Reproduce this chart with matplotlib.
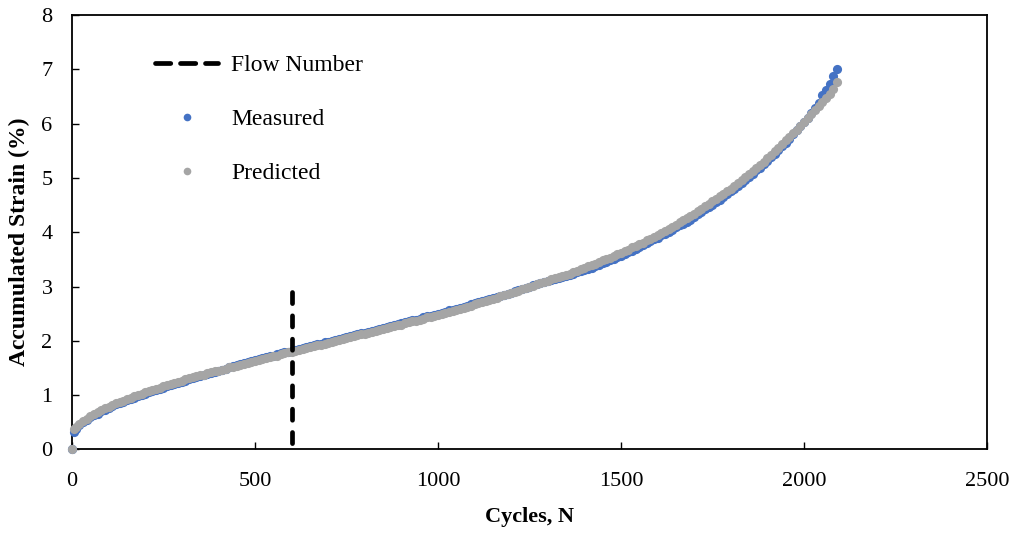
import matplotlib
matplotlib.use("Agg")
import matplotlib.pyplot as plt
from matplotlib.lines import Line2D

# cycles at which strain was recorded
cycles = [0, 5,
          10, 20, 30, 40, 50, 60, 70, 80, 90, 100,
          110, 120, 130, 140, 150, 160, 170, 180, 190, 200,
          210, 220, 230, 240, 250, 260, 270, 280, 290, 300,
          310, 320, 330, 340, 350, 360, 370, 380, 390, 400,
          410, 420, 430, 440, 450, 460, 470, 480, 490, 500,
          510, 520, 530, 540, 550, 560, 570, 580, 590, 600,
          610, 620, 630, 640, 650, 660, 670, 680, 690, 700,
          710, 720, 730, 740, 750, 760, 770, 780, 790, 800,
          810, 820, 830, 840, 850, 860, 870, 880, 890, 900,
          910, 920, 930, 940, 950, 960, 970, 980, 990, 1000,
          1010, 1020, 1030, 1040, 1050, 1060, 1070, 1080, 1090, 1100,
          1110, 1120, 1130, 1140, 1150, 1160, 1170, 1180, 1190, 1200,
          1210, 1220, 1230, 1240, 1250, 1260, 1270, 1280, 1290, 1300,
          1310, 1320, 1330, 1340, 1350, 1360, 1370, 1380, 1390, 1400,
          1410, 1420, 1430, 1440, 1450, 1460, 1470, 1480, 1490, 1500,
          1510, 1520, 1530, 1540, 1550, 1560, 1570, 1580, 1590, 1600,
          1610, 1620, 1630, 1640, 1650, 1660, 1670, 1680, 1690, 1700,
          1710, 1720, 1730, 1740, 1750, 1760, 1770, 1780, 1790, 1800,
          1810, 1820, 1830, 1840, 1850, 1860, 1870, 1880, 1890, 1900,
          1910, 1920, 1930, 1940, 1950, 1960, 1970, 1980, 1990, 2000,
          2010, 2020, 2030, 2040, 2050, 2060, 2070, 2080, 2090]

measured_strain = [0.00, 0.33,
                   0.38, 0.45, 0.50, 0.55, 0.59, 0.63, 0.66, 0.70, 0.73, 0.77,
                   0.80, 0.83, 0.85, 0.88, 0.91, 0.93, 0.95, 0.98, 1.00, 1.02,
                   1.05, 1.07, 1.10, 1.12, 1.14, 1.16, 1.18, 1.20, 1.23, 1.25,
                   1.27, 1.29, 1.31, 1.33, 1.35, 1.37, 1.39, 1.41, 1.43, 1.45,
                   1.47, 1.49, 1.51, 1.53, 1.55, 1.57, 1.59, 1.61, 1.62, 1.64,
                   1.66, 1.68, 1.70, 1.72, 1.73, 1.75, 1.77, 1.79, 1.80, 1.82,
                   1.83, 1.85, 1.87, 1.89, 1.90, 1.92, 1.94, 1.95, 1.97, 1.98,
                   2.00, 2.02, 2.04, 2.05, 2.07, 2.09, 2.11, 2.12, 2.14, 2.15,
                   2.17, 2.18, 2.20, 2.22, 2.24, 2.25, 2.27, 2.29, 2.31, 2.32,
                   2.34, 2.36, 2.38, 2.39, 2.41, 2.43, 2.45, 2.46, 2.48, 2.50,
                   2.52, 2.54, 2.56, 2.57, 2.59, 2.61, 2.63, 2.65, 2.67, 2.69,
                   2.71, 2.73, 2.75, 2.77, 2.79, 2.81, 2.83, 2.85, 2.87, 2.89,
                   2.91, 2.93, 2.96, 2.98, 3.00, 3.02, 3.04, 3.06, 3.08, 3.10,
                   3.12, 3.14, 3.16, 3.18, 3.20, 3.22, 3.24, 3.26, 3.29, 3.31,
                   3.33, 3.35, 3.38, 3.40, 3.43, 3.45, 3.48, 3.51, 3.54, 3.57,
                   3.60, 3.63, 3.66, 3.70, 3.73, 3.76, 3.80, 3.83, 3.87, 3.90,
                   3.94, 3.97, 4.01, 4.05, 4.09, 4.13, 4.16, 4.18, 4.23, 4.28,
                   4.33, 4.37, 4.42, 4.46, 4.51, 4.56, 4.60, 4.65, 4.70, 4.75,
                   4.80, 4.86, 4.91, 4.97, 5.02, 5.08, 5.14, 5.19, 5.25, 5.31,
                   5.38, 5.44, 5.51, 5.58, 5.65, 5.72, 5.80, 5.88, 5.95, 6.03,
                   6.11, 6.19, 6.28, 6.38, 6.52, 6.62, 6.72, 6.88, 7.00]

predicted_strain = [0.00, 0.37,
                    0.41, 0.47, 0.52, 0.57, 0.61, 0.65, 0.69, 0.72, 0.76, 0.79,
                    0.82, 0.85, 0.88, 0.90, 0.93, 0.95, 0.98, 1.00, 1.03, 1.05,
                    1.08, 1.10, 1.12, 1.14, 1.17, 1.19, 1.21, 1.23, 1.25, 1.27,
                    1.29, 1.31, 1.33, 1.35, 1.37, 1.38, 1.40, 1.42, 1.44, 1.45,
                    1.47, 1.49, 1.51, 1.52, 1.54, 1.56, 1.58, 1.59, 1.61, 1.63,
                    1.65, 1.66, 1.68, 1.70, 1.72, 1.73, 1.75, 1.77, 1.79, 1.80,
                    1.82, 1.83, 1.85, 1.87, 1.89, 1.90, 1.92, 1.93, 1.95, 1.96,
                    1.98, 2.00, 2.02, 2.03, 2.05, 2.07, 2.09, 2.10, 2.12, 2.13,
                    2.15, 2.16, 2.18, 2.20, 2.22, 2.23, 2.25, 2.27, 2.29, 2.30,
                    2.32, 2.34, 2.36, 2.37, 2.39, 2.41, 2.43, 2.44, 2.46, 2.48,
                    2.50, 2.52, 2.54, 2.55, 2.57, 2.59, 2.61, 2.63, 2.65, 2.67,
                    2.69, 2.71, 2.73, 2.75, 2.77, 2.79, 2.82, 2.84, 2.86, 2.88,
                    2.90, 2.92, 2.95, 2.97, 2.99, 3.01, 3.04, 3.06, 3.08, 3.10,
                    3.13, 3.15, 3.17, 3.19, 3.22, 3.24, 3.27, 3.29, 3.32, 3.34,
                    3.37, 3.39, 3.42, 3.45, 3.48, 3.50, 3.53, 3.56, 3.59, 3.62,
                    3.65, 3.68, 3.72, 3.75, 3.78, 3.81, 3.85, 3.88, 3.92, 3.95,
                    3.99, 4.02, 4.06, 4.10, 4.14, 4.18, 4.22, 4.26, 4.30, 4.34,
                    4.39, 4.43, 4.48, 4.52, 4.57, 4.61, 4.66, 4.70, 4.75, 4.80,
                    4.86, 4.91, 4.97, 5.02, 5.08, 5.13, 5.19, 5.24, 5.30, 5.36,
                    5.43, 5.49, 5.56, 5.62, 5.69, 5.75, 5.82, 5.89, 5.96, 6.03,
                    6.10, 6.17, 6.25, 6.32, 6.40, 6.47, 6.55, 6.64, 6.76]

flow_number = 600
flow_line_strain = [0, 2.9]

plt.rcParams['font.family'] = ['Liberation Serif', 'DejaVu Serif']
plt.rcParams['lines.scale_dashes'] = False

fig = plt.figure(figsize=(10.18, 5.33), dpi=100)
ax = fig.add_axes([0.0707, 0.1567, 0.8988, 0.8152])

ax.plot(cycles, measured_strain, linestyle='none', marker='o', markersize=6.6,
        markeredgewidth=0, color='#4472C4', clip_on=False, zorder=3)
ax.plot(cycles, predicted_strain, linestyle='none', marker='o', markersize=6.6,
        markeredgewidth=0, color='#A5A5A5', clip_on=False, zorder=4)
# drawn top-down so a dash starts right at the top end
ax.plot([flow_number, flow_number], flow_line_strain[::-1], color='black',
        linewidth=3.4, dashes=(8.0, 8.8), dash_capstyle='round', zorder=5)

ax.set_xlim(0, 2500)
ax.set_ylim(0, 8)
ax.set_xticks([0, 500, 1000, 1500, 2000, 2500])
ax.set_yticks(range(0, 9))
ax.tick_params(direction='in', length=5, width=1, labelsize=16)
ax.tick_params(axis='x', pad=16)
ax.tick_params(axis='y', pad=14)
for s in ax.spines.values():
    s.set_linewidth(1.3)

ax.set_xlabel('Cycles, N', fontsize=16, fontweight='bold', labelpad=12)
ax.set_ylabel('Accumulated Strain (%)', fontsize=17, fontweight='bold')
ax.yaxis.set_label_coords(-0.0454, 0.4776)

# legend handles
h_flow = Line2D([], [], color='black', linewidth=3.4, dashes=(11.0, 7.0),
                dash_capstyle='round')
h_meas = Line2D([], [], linestyle='none', marker='o', markersize=5.5,
                markeredgewidth=0, color='#4472C4')
h_pred = Line2D([], [], linestyle='none', marker='o', markersize=5.5,
                markeredgewidth=0, color='#A5A5A5')
ax.legend([h_flow, h_meas, h_pred], ['Flow Number', 'Measured', 'Predicted'],
          loc='upper left', bbox_to_anchor=(0.152, 0.898), bbox_transform=fig.transFigure,
          frameon=False, fontsize=17, handlelength=2.7, handletextpad=0.55,
          labelspacing=1.38, borderpad=0, borderaxespad=0)

fig.savefig('out.png', dpi=100)
